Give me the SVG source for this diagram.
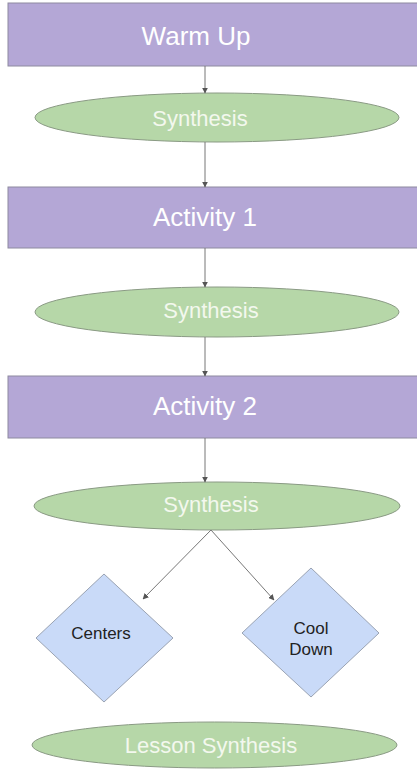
<svg xmlns="http://www.w3.org/2000/svg" width="417" height="769" viewBox="0 0 417 769">
<defs>
<style>
.step{fill:#b4a7d6;stroke:#8e8aa0;stroke-width:1}
.syn{fill:#b6d7a8;stroke:#8a9a84;stroke-width:1}
.dia{fill:#c9daf8;stroke:#9aa3b3;stroke-width:1}
.lt{font-family:"Liberation Sans",Arial,sans-serif;fill:#ffffff;text-anchor:middle}
.big{font-size:26px}
.mid{font-size:22px;fill:#f3f8ee}
.dk{font-family:"Liberation Sans",Arial,sans-serif;fill:#222222;text-anchor:middle;font-size:17px}
.conn line{stroke:#777777;stroke-width:1;marker-end:url(#ah)}
</style>
<marker id="ah" viewBox="0 0 10 10" refX="9" refY="5" markerWidth="6" markerHeight="6" orient="auto" markerUnits="userSpaceOnUse">
<path d="M0,0 L10,5 L0,10 Z" fill="#555555"/>
</marker>
</defs>
<rect width="417" height="769" fill="#ffffff"/>
<g id="warmup">
<rect class="step" x="8" y="3" width="420" height="63"/>
<text class="lt big" x="196" y="45">Warm Up</text>
</g>
<g id="synthesis1">
<ellipse class="syn" cx="217" cy="117.5" rx="182" ry="24.5"/>
<text class="lt mid" x="200" y="126">Synthesis</text>
</g>
<g id="activity1">
<rect class="step" x="8" y="187" width="420" height="61"/>
<text class="lt big" x="205" y="226">Activity 1</text>
</g>
<g id="synthesis2">
<ellipse class="syn" cx="217" cy="312" rx="182" ry="25"/>
<text class="lt mid" x="211" y="318">Synthesis</text>
</g>
<g id="activity2">
<rect class="step" x="8" y="376" width="420" height="62"/>
<text class="lt big" x="205" y="415">Activity 2</text>
</g>
<g id="synthesis3">
<ellipse class="syn" cx="217" cy="506" rx="183" ry="24"/>
<text class="lt mid" x="211" y="512">Synthesis</text>
</g>
<g id="centers">
<polygon class="dia" points="104,574 173,638 104,702 36,638"/>
<text class="dk" x="101" y="639">Centers</text>
</g>
<g id="cooldown">
<polygon class="dia" points="311,568 379,633 311,697 242,633"/>
<text class="dk" x="311" y="634">Cool</text>
<text class="dk" x="311" y="655">Down</text>
</g>
<g id="lessonsynthesis">
<ellipse class="syn" cx="214.5" cy="745" rx="182.5" ry="23"/>
<text class="lt mid" x="211" y="753">Lesson Synthesis</text>
</g>
<g id="connectors" class="conn">
<line x1="205" y1="66" x2="205" y2="93"/>
<line x1="205" y1="142" x2="205" y2="187"/>
<line x1="205" y1="248" x2="205" y2="287"/>
<line x1="205" y1="337" x2="205" y2="376"/>
<line x1="205" y1="438" x2="205" y2="482"/>
<line x1="211" y1="530" x2="143" y2="599"/>
<line x1="211" y1="530" x2="274" y2="600"/>
</g>
</svg>
